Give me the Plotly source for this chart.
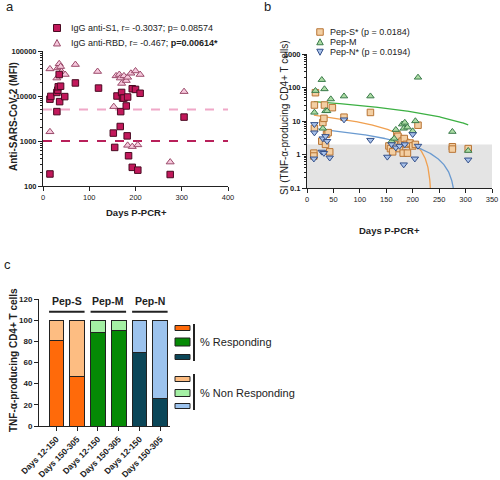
import numpy as np
import plotly.graph_objects as go

W, H = 500, 480
FONT = "Liberation Sans, Arial, sans-serif"

# ---------------- Panel a data ----------------
S1_DAYS = [15, 17, 15, 30, 30, 32, 33, 35, 36, 38, 47, 70, 120, 152, 155, 160, 167, 168,
           170, 172, 175, 180, 182, 183, 185, 193, 193, 200, 205, 210, 275, 305]
S1_MFI = [8500, 9800, 185, 4500, 12000, 13500, 16000, 30000, 7500, 16500, 9700, 19500, 15000,
          1500, 720, 10000, 2100, 4500, 12000, 9000, 9000, 6000, 1300, 9500, 470, 260, 14500,
          14000, 225, 11500, 180, 3400]
RBD_DAYS = [15, 15, 30, 32, 35, 38, 40, 48, 70, 118, 153, 158, 165, 167, 170, 175, 180, 183,
            183, 190, 193, 200, 205, 210, 275, 305]
RBD_MFI = [40000, 1600, 25000, 42000, 52000, 45000, 35000, 30000, 50000, 35000, 5800, 28000,
           30000, 25000, 19000, 28000, 22000, 26000, 800, 32000, 750, 36000, 820, 30000, 340, 12500]
S1_CUTOFF = 1000
RBD_CUTOFF = 5000
LEG_A = ["IgG anti-S1, r= -0.3037; p= 0.08574",
         "IgG anti-RBD, r= -0.467; <b>p=0.00614*</b>"]

# ---------------- Panel b data ----------------
PEPS_DAYS = [13, 13, 14, 16, 14, 28, 30, 32, 33, 35, 37, 40, 43, 48, 70, 120, 155, 158, 162,
             165, 170, 172, 175, 180, 182, 184, 188, 190, 195, 200, 205, 210, 275, 275, 305]
PEPS_SI = [1.1, 0.9, 30, 70, 6, 2.5, 9, 12, 30, 2, 4, 4.5, 1.2, 25, 13, 18, 1.8, 1.5, 1.2,
           2, 4, 3.5, 1.5, 2.5, 1.1, 3, 2, 1.1, 2.2, 1.8, 2, 7.5, 1.7, 1.45, 1.5]
PEPM_DAYS = [14, 16, 28, 30, 33, 35, 38, 45, 70, 120, 160, 165, 168, 180, 183, 185, 190, 200,
             205, 210, 275, 305]
PEPM_SI = [18, 80, 170, 6, 90, 20, 20, 45, 55, 55, 2.5, 3, 5.5, 8, 6, 9, 6.5, 5, 10, 200, 4.8, 1.3]
PEPN_DAYS = [13, 14, 14, 28, 30, 32, 35, 38, 43, 70, 120, 152, 160, 168, 175, 183, 185, 200,
             204, 210, 305]
PEPN_SI = [0.75, 8, 4.5, 1.2, 3, 1.1, 3.5, 2.5, 0.8, 11, 2.7, 0.85, 2, 1.6, 1.8, 0.5, 2, 4,
           0.75, 1.8, 0.7]
SI_THRESHOLD = 2
FIT_INTERCEPT = {"S": 15.9, "M": 39.3, "N": 6.3}
FIT_SLOPE = {"S": -0.0677, "M": -0.1037, "N": -0.0224}
FIT_START, FIT_STOP = 13, 305
LEG_B = ["Pep-S* (p = 0.0184)", "Pep-M", "Pep-N* (p = 0.0194)"]

# ---------------- Panel c data ----------------
PEPTIDES = ["Pep-S", "Pep-M", "Pep-N"]
PERIODS = ["Days 12-150", "Days 150-305"]
RESPONDING = {"Pep-S": [81, 47], "Pep-M": [88, 90], "Pep-N": [69, 26]}
NON_RESPONDING = {"Pep-S": [19, 53], "Pep-M": [12, 10], "Pep-N": [31, 74]}

# ---------------- styles ----------------
S1_FILL, S1_EDGE = "#c2185b", "#4a0a22"
RBD_FILL, RBD_EDGE = "#f6c8dc", "#9a4a6a"
S1_LINE, RBD_LINE = "#b8205a", "#f0a8c8"
PEP_FILL = {"S": "#f3cfa3", "M": "#acdca4", "N": "#a9c2ea"}
PEP_EDGE = {"S": "#b87434", "M": "#3a7a4a", "N": "#34508a"}
FIT_COLOR = {"S": "#f0a050", "M": "#3cb043", "N": "#6a9ad0"}
RESP_COLOR = {"Pep-S": "#ff6a0a", "Pep-M": "#058a05", "Pep-N": "#0b4658"}
NON_COLOR = {"Pep-S": "#fdbd82", "Pep-M": "#a4f0a4", "Pep-N": "#9cc3ee"}


def fx(p):
    return p / W


def fy(p):
    return 1 - p / H


fig = go.Figure()

# ---- Panel a ----
fig.add_trace(go.Scatter(x=RBD_DAYS, y=RBD_MFI, mode="markers", xaxis="x", yaxis="y",
                         marker=dict(symbol="triangle-up", size=7, color=RBD_FILL,
                                     line=dict(color=RBD_EDGE, width=1))))
fig.add_trace(go.Scatter(x=S1_DAYS, y=S1_MFI, mode="markers", xaxis="x", yaxis="y",
                         marker=dict(symbol="square", size=6.5, color=S1_FILL,
                                     line=dict(color=S1_EDGE, width=1))))

# ---- Panel b ----
for k in ["M", "S", "N"]:
    a, b = FIT_INTERCEPT[k], FIT_SLOPE[k]
    stop = min(FIT_STOP, (0.1 - a) / b)
    xs = np.linspace(FIT_START, stop, 400)
    ys = np.maximum(a + b * xs, 0.1)
    fig.add_trace(go.Scatter(x=xs, y=ys, mode="lines", xaxis="x2", yaxis="y2",
                             line=dict(color=FIT_COLOR[k], width=1.3)))
for k, xs, ys, sym in [("S", PEPS_DAYS, PEPS_SI, "square"),
                       ("M", PEPM_DAYS, PEPM_SI, "triangle-up"),
                       ("N", PEPN_DAYS, PEPN_SI, "triangle-down")]:
    fig.add_trace(go.Scatter(x=xs, y=ys, mode="markers", xaxis="x2", yaxis="y2",
                             marker=dict(symbol=sym, size=6.5, color=PEP_FILL[k],
                                         line=dict(color=PEP_EDGE[k], width=1))))

# ---- Panel c ----
for i, p in enumerate(PEPTIDES):
    fig.add_trace(go.Bar(x=[2 * i, 2 * i + 1], y=RESPONDING[p], xaxis="x3", yaxis="y3",
                         width=0.71, marker=dict(color=RESP_COLOR[p], line=dict(color="#222", width=1))))
for i, p in enumerate(PEPTIDES):
    fig.add_trace(go.Bar(x=[2 * i, 2 * i + 1], y=NON_RESPONDING[p], xaxis="x3", yaxis="y3",
                         width=0.71, marker=dict(color=NON_COLOR[p], line=dict(color="#222", width=1))))

axis_common = dict(showline=True, linecolor="#222", linewidth=1, ticks="outside", ticklen=4,
                   tickcolor="#222", showgrid=False, zeroline=False, automargin=False)

minor_a = [m * 10 ** e for e in range(2, 5) for m in range(2, 10)]
minor_b = [m * 10 ** e for e in range(-1, 3) for m in range(2, 10)]

fig.update_layout(
    width=W, height=H, margin=dict(l=0, r=0, t=0, b=0, pad=0, autoexpand=False),
    showlegend=False,
    paper_bgcolor="white", plot_bgcolor="white", barmode="stack",
    font=dict(family=FONT, color="#222"),
    xaxis=dict(domain=[fx(43), fx(228)], range=[0, 400], tickvals=[0, 100, 200, 300, 400],
               anchor="y", tickfont=dict(size=7.5), **axis_common),
    yaxis=dict(domain=[fy(186), fy(51)], type="log", range=[2, 5],
               tickvals=[100, 1000, 10000, 100000], ticktext=["100", "1000", "10000", "100000"],
               anchor="x", tickfont=dict(size=7.5, weight="bold"),
               minor=dict(ticks="outside", ticklen=2, tickcolor="#222", tickvals=minor_a),
               **axis_common),
    xaxis2=dict(domain=[fx(307), fx(492)], range=[0, 350], dtick=50, anchor="y2",
                tickfont=dict(size=7.5), **axis_common),
    yaxis2=dict(domain=[fy(188), fy(54)], type="log", range=[-1, 3],
                tickvals=[0.1, 1, 10, 100, 1000], ticktext=["0.1", "1", "10", "100", "1000"],
                anchor="x2", tickfont=dict(size=7.5, weight="bold"),
                minor=dict(ticks="outside", ticklen=2, tickcolor="#222", tickvals=minor_b),
                **axis_common),
    xaxis3=dict(domain=[fx(39), fx(170)], range=[-0.84, 5.47], tickvals=list(range(6)),
                ticktext=PERIODS * 3, tickangle=-45, anchor="y3",
                tickfont=dict(size=8.5, weight="bold"), **axis_common),
    yaxis3=dict(domain=[fy(426), fy(299)], range=[0, 120], dtick=20, anchor="x3",
                tickfont=dict(size=8, weight="bold"), **axis_common),
)

shapes = []
ann = []

# Panel a cutoff lines
for val, col in [(RBD_CUTOFF, RBD_LINE), (S1_CUTOFF, S1_LINE)]:
    yd = (np.log10(val) - 2) / 3
    shapes.append(dict(type="line", xref="x domain", yref="y domain", x0=0, x1=1, y0=yd, y1=yd,
                       line=dict(color=col, width=2, dash="dash"), layer="below"))

# Panel b grey non-responder band
yd = (np.log10(SI_THRESHOLD) + 1) / 4
shapes.append(dict(type="rect", xref="x2 domain", yref="y2 domain", x0=0, x1=1, y0=0, y1=yd,
                   fillcolor="#e4e4e4", line=dict(width=0), layer="below"))


def sym_path(kind, s):
    h = s / 2
    if kind == "square":
        return f"M {-h},{-h} L {h},{-h} L {h},{h} L {-h},{h} Z"
    if kind == "up":
        return f"M {-h},{-h * 0.85} L {h},{-h * 0.85} L 0,{h} Z"
    return f"M {-h},{h * 0.85} L {h},{h * 0.85} L 0,{-h} Z"


def legend_symbol(cx, cy, kind, size, fill, edge):
    shapes.append(dict(type="path", xref="paper", yref="paper", xsizemode="pixel",
                       ysizemode="pixel", xanchor=fx(cx), yanchor=fy(cy),
                       path=sym_path(kind, size), fillcolor=fill,
                       line=dict(color=edge, width=1)))


def text(x, y, s, size, xanchor="left", bold=False, angle=0, yanchor="middle"):
    ann.append(dict(x=fx(x), y=fy(y), xref="paper", yref="paper", text=s, showarrow=False,
                    xanchor=xanchor, yanchor=yanchor, textangle=angle,
                    font=dict(size=size, family=FONT, color="#222",
                              weight="bold" if bold else "normal")))


# Panel a legend
legend_symbol(57, 28, "square", 7, S1_FILL, S1_EDGE)
legend_symbol(57, 43, "up", 7, RBD_FILL, RBD_EDGE)
text(69, 28, LEG_A[0], 9)
text(69, 43, LEG_A[1], 9)

# Panel b legend
legend_symbol(320, 32, "square", 6.5, PEP_FILL["S"], PEP_EDGE["S"])
legend_symbol(320, 42, "up", 6.5, PEP_FILL["M"], PEP_EDGE["M"])
legend_symbol(320, 52, "down", 6.5, PEP_FILL["N"], PEP_EDGE["N"])
for i, s in enumerate(LEG_B):
    text(328, 32 + 10 * i, s, 9)

# panel letters
text(4, 7, "a", 13)
text(262, 7, "b", 13)
text(2, 264, "c", 13)

# axis titles
text(13, 117, "Anti-SARS-CoV-2 (MFI)", 10, xanchor="center", bold=True, angle=-90)
text(136, 212, "Days P-PCR+", 9.5, xanchor="center", bold=True)
text(284, 118, "SI (TNF-\u03b1-producing CD4+ T cells)", 10, xanchor="center", angle=-90)
text(389, 230, "Days P-PCR+", 9.5, xanchor="center", bold=True)
text(13, 360, "TNF-\u03b1-producing CD4+ T cells", 10, xanchor="center", bold=True, angle=-90)

# Panel c group labels and lines
for i, p in enumerate(PEPTIDES):
    shapes.append(dict(type="line", xref="x3", yref="y3", x0=2 * i - 0.355, x1=2 * i + 1.355,
                       y0=108, y1=108, line=dict(color="#222", width=2)))
    ann.append(dict(x=2 * i + 0.5, y=118, xref="x3", yref="y3", text=p, showarrow=False,
                    font=dict(size=10.5, family=FONT, color="#222", weight="bold")))

# Panel c legend
box_rows = [(328, 5, RESP_COLOR["Pep-S"]), (342, 8, RESP_COLOR["Pep-M"]), (357, 5, RESP_COLOR["Pep-N"]),
            (379, 5, NON_COLOR["Pep-S"]), (393, 7, NON_COLOR["Pep-M"]), (406, 5, NON_COLOR["Pep-N"])]
for cy, hgt, col in box_rows:
    shapes.append(dict(type="rect", xref="paper", yref="paper", x0=fx(175), x1=fx(190),
                       y0=fy(cy + hgt / 2), y1=fy(cy - hgt / 2), fillcolor=col,
                       line=dict(color="#222", width=1)))
for y0, y1 in [(324, 361), (374, 410)]:
    shapes.append(dict(type="line", xref="paper", yref="paper", x0=fx(194), x1=fx(194),
                       y0=fy(y0), y1=fy(y1), line=dict(color="#222", width=2)))
text(198, 342, "% Responding", 11)
text(198, 393, "% Non Responding", 11)

fig.update_layout(shapes=shapes, annotations=ann)
fig.write_html("out.html", config={"displayModeBar": False},
               post_script="document.body.style.margin='0';document.body.style.overflow='hidden';")
